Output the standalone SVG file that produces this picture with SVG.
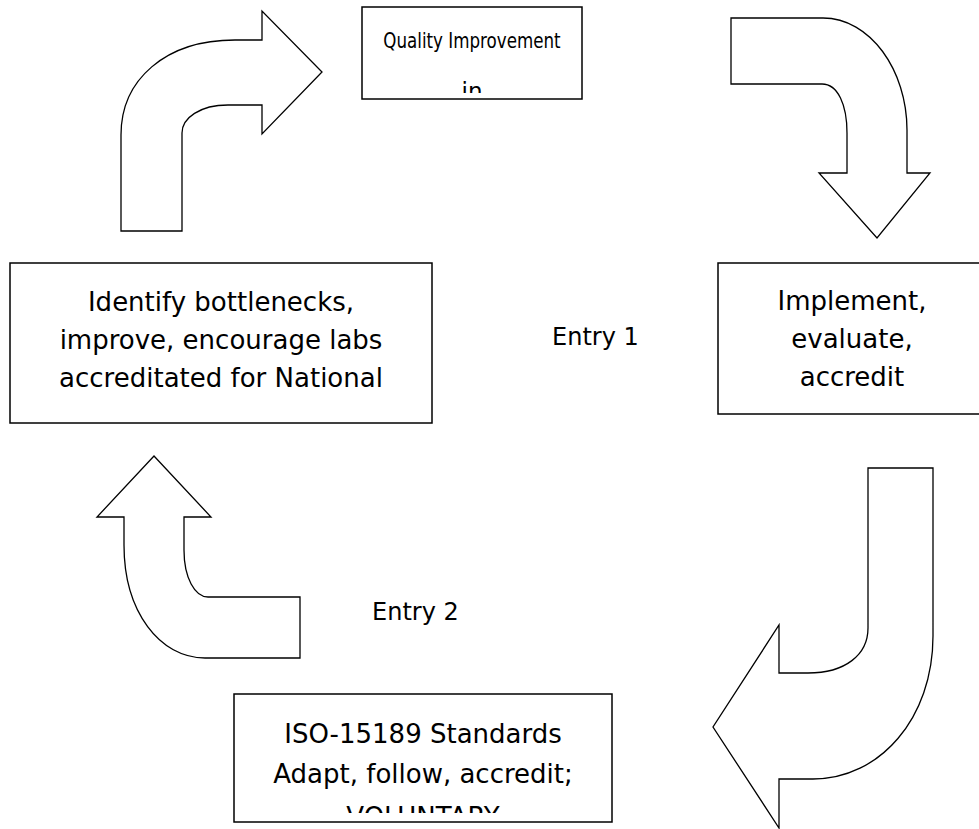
<svg xmlns="http://www.w3.org/2000/svg" width="979" height="829" viewBox="0 0 979 829">
<style>
.box{fill:#fff;stroke:#000;stroke-width:1.5}
.arr{fill:#fff;stroke:#000;stroke-width:1.3;stroke-linejoin:miter}
.t{font-family:"DejaVu Sans",Verdana,sans-serif;font-size:26px;fill:#000;text-anchor:middle}
.ts{font-size:22px}
.tm{font-size:23px}
.e{font-family:"DejaVu Sans",Verdana,sans-serif;font-size:24px;fill:#000}
</style>
<defs>
<clipPath id="cTop"><rect x="362" y="7" width="220" height="86"/></clipPath>
<clipPath id="cBot"><rect x="234" y="694" width="378" height="119"/></clipPath>
</defs>
<rect width="979" height="829" fill="#fff"/>
<g id="connectors">
<path class="arr" d="M121,231 L121,135 C121,80 165,40 235,40 L262,40 L262,11 L322,72 L262,134 L262,105 L228,105 C200,105 182,118 182,133 L182,231 Z"/>
<path class="arr" d="M731,18 L823,18 C870,18 907,70 907,130 L907,173 L930,173 L877,238 L819,173 L847,173 L847,133 C847,105 838,84 822,84 L731,84 Z"/>
<path class="arr" d="M868,468 L933,468 L933,636 C933,718 880,779 813,779 L779,779 L779,828 L713,727 L779,625 L779,673 L808,673 C845,673 868,655 868,628 Z"/>
<path class="arr" d="M154,456 L211,517 L184,517 L184,550 C184,578 195,597 208,597 L300,597 L300,658 L205,658 C160,658 124,612 124,545 L124,517 L97,517 Z"/>
</g>
<g id="node-quality">
<rect class="box" x="362" y="7" width="220" height="92"/>
<g clip-path="url(#cTop)">
<text class="t ts" x="472" y="48" transform="translate(472,0) scale(0.76,1) translate(-472,0)">Quality Improvement</text>
<text class="t tm" x="472" y="99">in</text>
</g>
</g>
<g id="node-identify">
<rect class="box" x="10" y="263" width="422" height="160"/>
<text class="t" x="221" y="311">Identify bottlenecks,</text>
<text class="t" x="221" y="349">improve, encourage labs</text>
<text class="t" x="221" y="387">accreditated for National</text>
</g>
<g id="node-implement">
<rect class="box" x="718" y="263" width="270" height="151"/>
<text class="t" x="852" y="310">Implement,</text>
<text class="t" x="852" y="348">evaluate,</text>
<text class="t" x="852" y="386">accredit</text>
</g>
<g id="node-iso">
<rect class="box" x="234" y="694" width="378" height="128"/>
<g clip-path="url(#cBot)">
<text class="t" x="423" y="743">ISO-15189 Standards</text>
<text class="t" x="423" y="783">Adapt, follow, accredit;</text>
<text class="t" x="423" y="826">VOLUNTARY</text>
</g>
</g>
<g id="label-entry1"><text class="e" x="552" y="345">Entry 1</text></g>
<g id="label-entry2"><text class="e" x="372" y="620">Entry 2</text></g>
</svg>
